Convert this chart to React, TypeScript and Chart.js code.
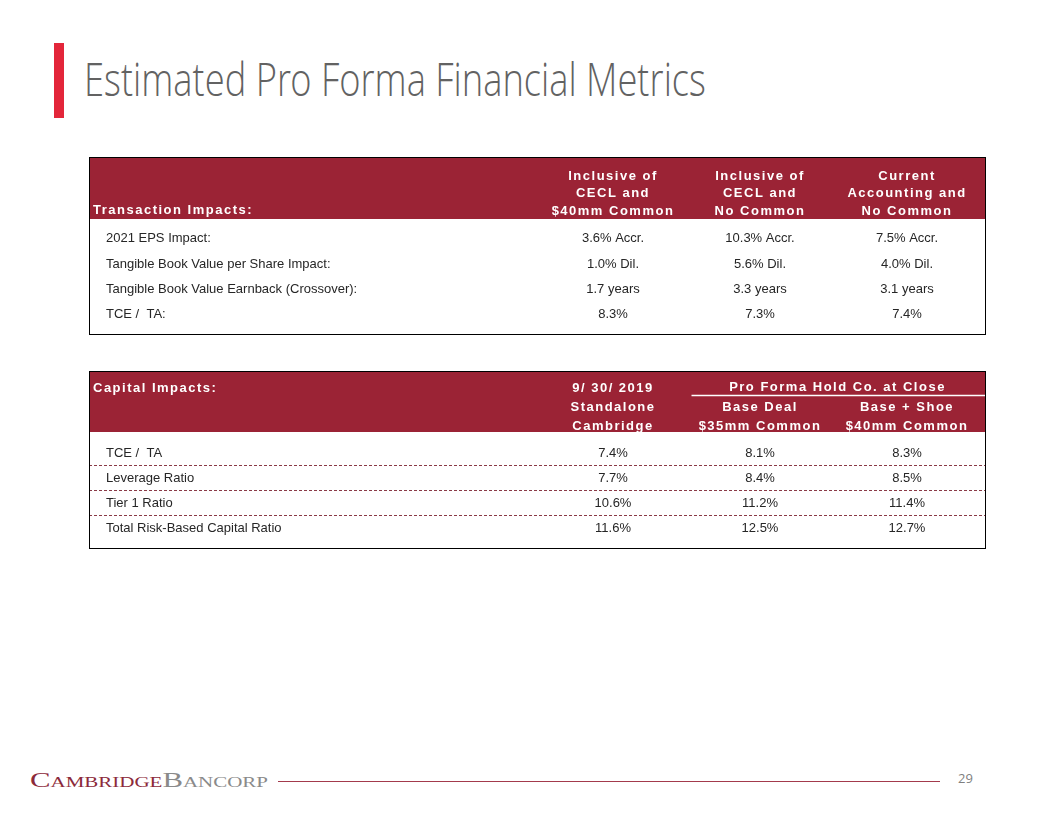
import React, { useEffect, useLayoutEffect, useRef } from "react";
import { Chart, registerables } from "chart.js";
Chart.register(...registerables);

// ---------------- Data ----------------
const titleText = "Estimated Pro Forma Financial Metrics";
const logoFirst = "Cambridge";
const logoSecond = "Bancorp";
const pageNumber = "29";

const t1Title = "Transaction Impacts:";
const t1ColumnKeys = ["cecl40mm", "ceclNoCommon", "currentNoCommon"];
const t1HeaderLines = [
  ["Inclusive of", "CECL and", "$40mm Common"],
  ["Inclusive of", "CECL and", "No Common"],
  ["Current", "Accounting and", "No Common"],
];
const t1Rows = [
  "2021 EPS Impact:",
  "Tangible Book Value per Share Impact:",
  "Tangible Book Value Earnback (Crossover):",
  "TCE /  TA:",
];
const t1Cecl40mm = ["3.6% Accr.", "1.0% Dil.", "1.7 years", "8.3%"];
const t1CeclNoCommon = ["10.3% Accr.", "5.6% Dil.", "3.3 years", "7.3%"];
const t1CurrentNoCommon = ["7.5% Accr.", "4.0% Dil.", "3.1 years", "7.4%"];

const t2Title = "Capital Impacts:";
const t2ColumnKeys = ["standalone", "baseDeal", "baseShoe"];
const t2HeaderLines = [
  ["9/ 30/ 2019", "Standalone", "Cambridge"],
  ["Base Deal", "$35mm Common"],
  ["Base + Shoe", "$40mm Common"],
];
const t2GroupHeader = "Pro Forma Hold Co. at Close";
const t2Rows = ["TCE /  TA", "Leverage Ratio", "Tier 1 Ratio", "Total Risk-Based Capital Ratio"];
const t2Standalone = [7.4, 7.7, 10.6, 11.6];
const t2BaseDeal = [8.1, 8.4, 11.2, 12.5];
const t2BaseShoe = [8.3, 8.5, 11.4, 12.7];

// ---------------- Styles ----------------
const RED_HEADER = "#9B2335";
const BODY_TEXT = "#262626";
const SANS = 'Arial, "Liberation Sans", sans-serif';
const HEADER_FONT = `bold 13px ${SANS}`;
const BODY_FONT = `13px ${SANS}`;

type HeaderDrawer = (ctx: CanvasRenderingContext2D, chart: any) => void;

function drawHeaderLines(ctx: CanvasRenderingContext2D, x: number, lines: string[], lastY: number, lh: number) {
  const n = lines.length;
  lines.forEach((line, i) => {
    ctx.fillText(line, x, lastY - (n - 1 - i) * lh);
  });
}

const drawT1Header: HeaderDrawer = (ctx, chart) => {
  const xs = chart.scales.x;
  ctx.fillStyle = "#ffffff";
  ctx.font = HEADER_FONT;
  (ctx as any).letterSpacing = "1.5px";
  ctx.textBaseline = "middle";
  ctx.textAlign = "left";
  ctx.fillText(t1Title, 4, 53);
  ctx.textAlign = "center";
  t1HeaderLines.forEach((lines, c) => {
    drawHeaderLines(ctx, xs.getPixelForValue(c), lines, 54, 17.5);
  });
};

const drawT2Header: HeaderDrawer = (ctx, chart) => {
  const xs = chart.scales.x;
  ctx.fillStyle = "#ffffff";
  ctx.font = HEADER_FONT;
  (ctx as any).letterSpacing = "1.5px";
  ctx.textBaseline = "middle";
  ctx.textAlign = "left";
  ctx.fillText(t2Title, 4, 17);
  ctx.textAlign = "center";
  t2HeaderLines.forEach((lines, c) => {
    drawHeaderLines(ctx, xs.getPixelForValue(c), lines, 55, 19);
  });
  const gx = (xs.getPixelForValue(1) + xs.getPixelForValue(2)) / 2 + 4;
  ctx.fillText(t2GroupHeader, gx, 16);
  ctx.strokeStyle = "#ffffff";
  ctx.lineWidth = 1.5;
  ctx.beginPath();
  ctx.moveTo(xs.getPixelForValue(0.5) + 5, 24.5);
  ctx.lineTo(chart.width, 24.5);
  ctx.stroke();
};

type TableProps = {
  left: number;
  top: number;
  width: number;
  height: number;
  headerHeight: number;
  rows: string[];
  columnKeys: string[];
  columns: string[][];
  padding: { top: number; bottom: number; left: number; right: number };
  yAxisWidth: number;
  drawHeader: HeaderDrawer;
  dashed: boolean;
  dashShift: number;
};

function TableChart(props: TableProps) {
  const ref = useRef<HTMLCanvasElement | null>(null);
  useEffect(() => {
    const canvas = ref.current;
    if (!canvas) return;
    const { rows, columnKeys, columns, headerHeight, drawHeader, dashed, yAxisWidth, padding, dashShift } = props;

    const datasets = columns.map((vals, c) => ({
      label: columnKeys[c],
      data: rows.map((r, i) => ({ x: columnKeys[c], y: r, text: vals[i] })),
      showLine: false,
      pointRadius: 0,
      pointHoverRadius: 0,
      borderWidth: 0,
    }));

    const tablePlugin = {
      id: "tableCells",
      beforeDraw(chart: any) {
        const ctx: CanvasRenderingContext2D = chart.ctx;
        ctx.save();
        ctx.fillStyle = "#ffffff";
        ctx.fillRect(0, 0, chart.width, chart.height);
        ctx.fillStyle = RED_HEADER;
        ctx.fillRect(0, 0, chart.width, headerHeight);
        drawHeader(ctx, chart);
        ctx.restore();
        if (dashed) {
          const ys = chart.scales.y;
          ctx.save();
          ctx.strokeStyle = "#8a3a46";
          ctx.lineWidth = 1;
          ctx.setLineDash([3, 2]);
          for (let i = 0; i < rows.length - 1; i++) {
            const y = Math.round(ys.getPixelForValue(i + 0.5) + dashShift) + 0.5;
            ctx.beginPath();
            ctx.moveTo(0, y);
            ctx.lineTo(chart.width, y);
            ctx.stroke();
          }
          ctx.restore();
        }
      },
      afterDatasetsDraw(chart: any) {
        const ctx: CanvasRenderingContext2D = chart.ctx;
        ctx.save();
        ctx.font = BODY_FONT;
        ctx.fillStyle = BODY_TEXT;
        ctx.textAlign = "center";
        ctx.textBaseline = "middle";
        chart.data.datasets.forEach((ds: any, di: number) => {
          const meta = chart.getDatasetMeta(di);
          meta.data.forEach((el: any, i: number) => {
            ctx.fillText(ds.data[i].text, el.x, el.y);
          });
        });
        ctx.restore();
      },
      afterDraw(chart: any) {
        const ctx: CanvasRenderingContext2D = chart.ctx;
        ctx.save();
        ctx.strokeStyle = "#000000";
        ctx.lineWidth = 1;
        ctx.strokeRect(0.5, 0.5, chart.width - 1, chart.height - 1);
        ctx.restore();
      },
    };

    const chart = new Chart(canvas, {
      type: "line",
      data: { datasets: datasets as any },
      options: {
        responsive: false,
        animation: false,
        events: [],
        layout: { padding },
        plugins: { legend: { display: false }, tooltip: { enabled: false } },
        scales: {
          x: { type: "category", labels: columnKeys, offset: true, display: false },
          y: {
            type: "category",
            labels: rows,
            offset: true,
            position: "left",
            grid: { display: false },
            border: { display: false },
            ticks: {
              crossAlign: "far",
              padding: 0,
              autoSkip: false,
              color: BODY_TEXT,
              font: { family: SANS, size: 13 },
            },
            afterFit: (s: any) => {
              s.width = yAxisWidth;
            },
          },
        },
      } as any,
      plugins: [tablePlugin],
    });
    return () => chart.destroy();
  }, []);

  return (
    <canvas
      ref={ref}
      width={props.width}
      height={props.height}
      style={{ position: "absolute", left: props.left, top: props.top, width: props.width, height: props.height }}
    />
  );
}

function FitText(props: { target: number; style: React.CSSProperties; children: React.ReactNode }) {
  const ref = useRef<HTMLSpanElement | null>(null);
  useLayoutEffect(() => {
    const fit = () => {
      const el = ref.current;
      if (!el) return;
      el.style.transform = "none";
      const w = el.getBoundingClientRect().width;
      if (w > 0) el.style.transform = `scaleX(${props.target / w})`;
    };
    fit();
    if ((document as any).fonts && (document as any).fonts.ready) {
      (document as any).fonts.ready.then(fit);
    }
  }, []);
  return (
    <span
      ref={ref}
      style={{ display: "inline-block", whiteSpace: "nowrap", transformOrigin: "0 0", ...props.style }}
    >
      {props.children}
    </span>
  );
}

export default function App() {
  return (
    <div
      style={{
        position: "fixed",
        left: 0,
        top: 0,
        width: 1056,
        height: 816,
        background: "#ffffff",
        overflow: "hidden",
      }}
    >
      <div style={{ position: "absolute", left: 54, top: 43, width: 10, height: 75, background: "#E3263A" }} />
      <div style={{ position: "absolute", left: 84, top: 55 }}>
        <FitText
          target={622}
          style={{
            fontFamily: '"Open Sans Light", "Open Sans", "Noto Sans", sans-serif',
            fontWeight: 300,
            fontSize: 46,
            lineHeight: "46px",
            color: "#626262",
          }}
        >
          {titleText}
        </FitText>
      </div>

      <TableChart
        left={89}
        top={157}
        width={897}
        height={178}
        headerHeight={62}
        rows={t1Rows}
        columnKeys={t1ColumnKeys}
        columns={[t1Cecl40mm, t1CeclNoCommon, t1CurrentNoCommon]}
        padding={{ top: 69, bottom: 5, left: 17, right: 5.5 }}
        yAxisWidth={433.5}
        drawHeader={drawT1Header}
        dashed={false}
        dashShift={0}
      />

      <TableChart
        left={89}
        top={371}
        width={897}
        height={178}
        headerHeight={61}
        rows={t2Rows}
        columnKeys={t2ColumnKeys}
        columns={[
          t2Standalone.map((v) => `${v.toFixed(1)}%`),
          t2BaseDeal.map((v) => `${v.toFixed(1)}%`),
          t2BaseShoe.map((v) => `${v.toFixed(1)}%`),
        ]}
        padding={{ top: 70, bottom: 4, left: 17, right: 5.5 }}
        yAxisWidth={433.5}
        drawHeader={drawT2Header}
        dashed={true}
        dashShift={-1.5}
      />

      <div style={{ position: "absolute", left: 30, top: 769 }}>
        <FitText
          target={238}
          style={{
            fontFamily: '"Liberation Serif", "DejaVu Serif", serif',
            fontVariant: "small-caps",
            fontSize: 22,
            lineHeight: "22px",
          }}
        >
          <span style={{ color: "#8C2A3A" }}>{logoFirst}</span>
          <span style={{ color: "#8A8A8A" }}>{logoSecond}</span>
        </FitText>
      </div>
      <div style={{ position: "absolute", left: 278, top: 781, width: 662, height: 1, background: "#A33A4C" }} />
      <div
        style={{
          position: "absolute",
          left: 958,
          top: 770,
          fontFamily: '"Open Sans", "Noto Sans", sans-serif',
          fontSize: 13,
          lineHeight: "16px",
          color: "#7F7F7F",
        }}
      >
        {pageNumber}
      </div>
    </div>
  );
}
